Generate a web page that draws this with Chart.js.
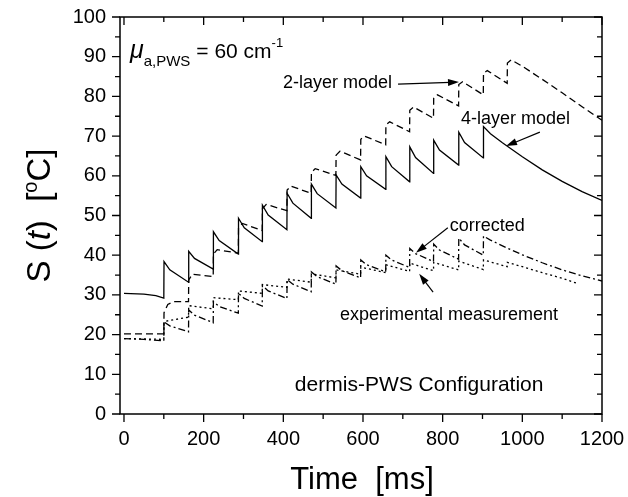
<!DOCTYPE html>
<html>
<head>
<meta charset="utf-8">
<script src="https://cdn.jsdelivr.net/npm/chart.js@4.4.1/dist/chart.umd.min.js"></script>
<style>
  body { margin: 0; background: #fff; }
  canvas { display: block; }
</style>
</head>
<body>
<canvas id="chart" width="628" height="497"></canvas>
<script>
// axis ticks
const xTickValues = [0, 200, 400, 600, 800, 1000, 1200];
const yTickValues = [0, 10, 20, 30, 40, 50, 60, 70, 80, 90, 100];

// 4-layer model (solid)
const fourLayerMs = [0, 50, 80, 100, 100.5, 115, 162, 162.5, 177, 224, 224.5, 239, 287, 287.5, 302, 347, 347.5, 362, 409, 409.5, 424, 470, 470.5, 485, 532, 532.5, 547, 594, 594.5, 609, 657, 657.5, 672, 717, 717.5, 732, 777, 777.5, 792, 840, 840.5, 855, 902, 902.5, 920, 950, 1000, 1050, 1100, 1150, 1200];
const fourLayerS = [30.4, 30.2, 29.8, 29.2, 38.4, 36.3, 33.2, 41.0, 39.2, 36.5, 45.9, 43.7, 40.3, 49.3, 46.9, 43.4, 52.6, 50.1, 46.4, 55.6, 53.1, 49.3, 57.9, 55.5, 51.9, 60.2, 57.9, 54.4, 62.3, 60.0, 56.6, 64.8, 62.3, 58.5, 67.3, 64.6, 60.6, 69.0, 66.5, 62.7, 71.0, 68.4, 64.5, 72.4, 70.6, 68.3, 64.8, 61.5, 58.6, 56.0, 53.8];

// 2-layer model (dashed)
const twoLayerMs = [0, 100, 100.5, 110, 125, 162, 162.5, 172, 224, 224.5, 234, 287, 287.5, 297, 347, 347.5, 357, 409, 409.5, 419, 470, 470.5, 480, 532, 532.5, 542, 594, 594.5, 604, 657, 657.5, 667, 717, 717.5, 727, 777, 777.5, 787, 840, 840.5, 850, 902, 902.5, 912, 962, 962.5, 972, 1000, 1050, 1100, 1150, 1200];
const twoLayerS = [20.2, 20.2, 25.5, 27.6, 28.3, 28.3, 33.8, 35.2, 34.6, 40.3, 41.4, 40.5, 46.8, 48.0, 46.2, 51.7, 52.8, 51.2, 56.4, 57.4, 55.6, 60.8, 61.8, 60.1, 65.2, 66.2, 64.0, 69.2, 70.0, 67.8, 72.8, 73.6, 71.1, 76.5, 77.3, 74.5, 79.6, 80.4, 77.6, 83.0, 83.7, 80.4, 85.8, 86.5, 83.3, 88.4, 89.2, 87.6, 84.3, 80.9, 77.4, 74.0];

// corrected (dash-dot)
const correctedMs = [0, 50, 100, 100.5, 115, 162, 162.5, 177, 224, 224.5, 239, 287, 287.5, 302, 347, 347.5, 362, 409, 409.5, 424, 470, 470.5, 485, 532, 532.5, 547, 594, 594.5, 609, 657, 657.5, 672, 717, 717.5, 732, 777, 777.5, 792, 840, 840.5, 855, 902, 902.5, 920, 960, 1000, 1050, 1100, 1150, 1200];
const correctedS = [19.0, 18.8, 18.4, 23.2, 22.2, 20.7, 26.2, 24.9, 23.0, 28.3, 27.1, 25.4, 30.4, 29.1, 27.2, 32.3, 31.0, 29.1, 33.9, 32.7, 30.8, 35.8, 34.6, 32.7, 37.3, 36.1, 34.3, 38.8, 37.6, 35.8, 40.0, 38.8, 36.9, 41.7, 40.4, 38.4, 42.8, 41.3, 39.0, 44.3, 42.6, 40.0, 44.8, 43.8, 41.9, 40.1, 38.1, 36.3, 34.8, 33.5];

// experimental measurement (dotted)
const measuredMs = [0, 100, 100.5, 162, 162.5, 224, 224.5, 287, 287.5, 347, 347.5, 409, 409.5, 470, 470.5, 532, 532.5, 594, 594.5, 657, 657.5, 717, 717.5, 777, 777.5, 840, 840.5, 902, 902.5, 962, 962.5, 1000, 1050, 1100, 1135];
const measuredS = [19.0, 18.8, 23.3, 24.4, 27.3, 26.5, 29.3, 28.8, 31.0, 30.4, 32.6, 31.9, 34.0, 33.2, 35.3, 34.3, 36.3, 35.2, 37.0, 35.6, 37.6, 35.9, 38.0, 36.1, 38.2, 36.3, 38.5, 36.4, 38.8, 37.1, 38.2, 37.1, 35.6, 34.2, 33.0];

const FONT = '"Liberation Sans", Arial, Helvetica, sans-serif';

function pts(xs, ys) {
  return xs.map((x, i) => ({ x: x, y: ys[i] }));
}

function line(label, xs, ys, dash) {
  return {
    label: label,
    data: pts(xs, ys),
    borderColor: '#000',
    borderWidth: 1.3,
    borderDash: dash,
    pointRadius: 0,
    fill: false,
    tension: 0
  };
}

function arrow(ctx, x1, y1, x2, y2) {
  const a = Math.atan2(y2 - y1, x2 - x1);
  const len = 11, w = 3.5;
  ctx.beginPath();
  ctx.moveTo(x1, y1);
  ctx.lineTo(x2 - Math.cos(a) * len * 0.8, y2 - Math.sin(a) * len * 0.8);
  ctx.stroke();
  ctx.beginPath();
  ctx.moveTo(x2, y2);
  ctx.lineTo(x2 - Math.cos(a) * len + Math.sin(a) * w, y2 - Math.sin(a) * len - Math.cos(a) * w);
  ctx.lineTo(x2 - Math.cos(a) * len - Math.sin(a) * w, y2 - Math.sin(a) * len + Math.cos(a) * w);
  ctx.closePath();
  ctx.fill();
}

const framePlugin = {
  id: 'frame',
  afterDraw(chart) {
    const ctx = chart.ctx;
    const a = chart.chartArea;
    const xs = chart.scales.x, ys = chart.scales.y;
    const X = v => xs.getPixelForValue(v);
    const Y = v => ys.getPixelForValue(v);
    ctx.save();
    ctx.strokeStyle = '#000';
    ctx.fillStyle = '#000';
    ctx.lineWidth = 1.5;
    ctx.strokeRect(a.left, a.top, a.right - a.left, a.bottom - a.top);

    // tick marks: bottom/left outward, top/right inward
    ctx.lineWidth = 1.3;
    ctx.beginPath();
    for (let v = 0; v <= 1200; v += 100) {
      const len = v % 200 === 0 ? 8 : 5;
      const px = X(v);
      ctx.moveTo(px, a.bottom); ctx.lineTo(px, a.bottom + len);
      ctx.moveTo(px, a.top); ctx.lineTo(px, a.top + len);
    }
    for (let v = 0; v <= 100; v += 5) {
      const len = v % 10 === 0 ? 8 : 5;
      const py = Y(v);
      ctx.moveTo(a.left, py); ctx.lineTo(a.left - len, py);
      ctx.moveTo(a.right, py); ctx.lineTo(a.right - len, py);
    }
    ctx.stroke();

    // axis titles
    ctx.textBaseline = 'alphabetic';
    ctx.textAlign = 'center';
    ctx.font = '31px ' + FONT;
    ctx.fillText('Time  [ms]', 362, 489);

    ctx.save();
    ctx.translate(50, Y(50));
    ctx.rotate(-Math.PI / 2);
    const parts = [
      ['S (', '33px ' + FONT, 0],
      ['t', 'italic 33px ' + FONT, 0],
      [')  [', '33px ' + FONT, 0],
      ['o', '20px ' + FONT, -13],
      ['C]', '33px ' + FONT, 0]
    ];
    let total = 0;
    parts.forEach(p => { ctx.font = p[1]; total += ctx.measureText(p[0]).width; });
    let cx = -total / 2;
    ctx.textAlign = 'left';
    parts.forEach(p => {
      ctx.font = p[1];
      ctx.fillText(p[0], cx, p[2]);
      cx += ctx.measureText(p[0]).width;
    });
    ctx.restore();

    // annotations
    ctx.textAlign = 'left';
    let mx = X(15), my = Y(89.7);
    ctx.font = 'italic 25px ' + FONT;
    ctx.fillText('\u03bc', mx, my);
    mx += ctx.measureText('\u03bc').width;
    ctx.font = '15px ' + FONT;
    ctx.fillText('a,PWS', mx, my + 8);
    mx += ctx.measureText('a,PWS').width + 6;
    ctx.font = '21px ' + FONT;
    ctx.fillText('= 60 cm', mx, my);
    mx += ctx.measureText('= 60 cm').width;
    ctx.font = '13px ' + FONT;
    ctx.fillText('-1', mx, my - 11);

    ctx.font = '18px ' + FONT;
    ctx.textAlign = 'right';
    ctx.fillText('2-layer model', X(673), Y(82.1));
    ctx.textAlign = 'left';
    ctx.fillText('4-layer model', X(846), Y(73.0));
    ctx.fillText('corrected', X(818), Y(46.2));
    ctx.fillText('experimental measurement', X(542), Y(23.7));
    ctx.font = '21px ' + FONT;
    ctx.fillText('dermis-PWS Configuration', X(429), Y(5.8));

    ctx.lineWidth = 1.2;
    arrow(ctx, X(688), Y(83.1), X(841), Y(83.6));
    arrow(ctx, X(1044), Y(71.0), X(959), Y(67.5));
    arrow(ctx, X(813), Y(46.9), X(733), Y(40.6));
    arrow(ctx, X(776), Y(30.7), X(741), Y(35.3));
    ctx.restore();
  }
};

new Chart(document.getElementById('chart'), {
  type: 'line',
  data: {
    datasets: [
      line('4-layer model', fourLayerMs, fourLayerS, []),
      line('2-layer model', twoLayerMs, twoLayerS, [7, 4]),
      line('corrected', correctedMs, correctedS, [7, 3, 2, 3]),
      line('experimental measurement', measuredMs, measuredS, [2, 3])
    ]
  },
  options: {
    responsive: false,
    animation: false,
    layout: { padding: { top: 17, right: 26, left: 0, bottom: 0 } },
    plugins: { legend: { display: false }, tooltip: { enabled: false } },
    scales: {
      x: {
        type: 'linear',
        min: -10,
        max: 1200,
        grid: { display: false, drawTicks: false },
        border: { display: false },
        ticks: { color: '#000', font: { family: FONT, size: 20 }, padding: 13, maxRotation: 0, callback: v => String(v) },
        afterBuildTicks: s => { s.ticks = xTickValues.map(v => ({ value: v })); },
        afterFit: s => { s.height = 83; s.paddingLeft = 0; s.paddingRight = 0; }
      },
      y: {
        type: 'linear',
        min: 0,
        max: 100,
        grid: { display: false, drawTicks: false },
        border: { display: false },
        ticks: { color: '#000', font: { family: FONT, size: 20 }, padding: 14, callback: v => String(v) },
        afterBuildTicks: s => { s.ticks = yTickValues.map(v => ({ value: v })); },
        afterFit: s => { s.width = 120; s.paddingTop = 0; s.paddingBottom = 0; }
      }
    }
  },
  plugins: [framePlugin]
});
</script>
</body>
</html>
